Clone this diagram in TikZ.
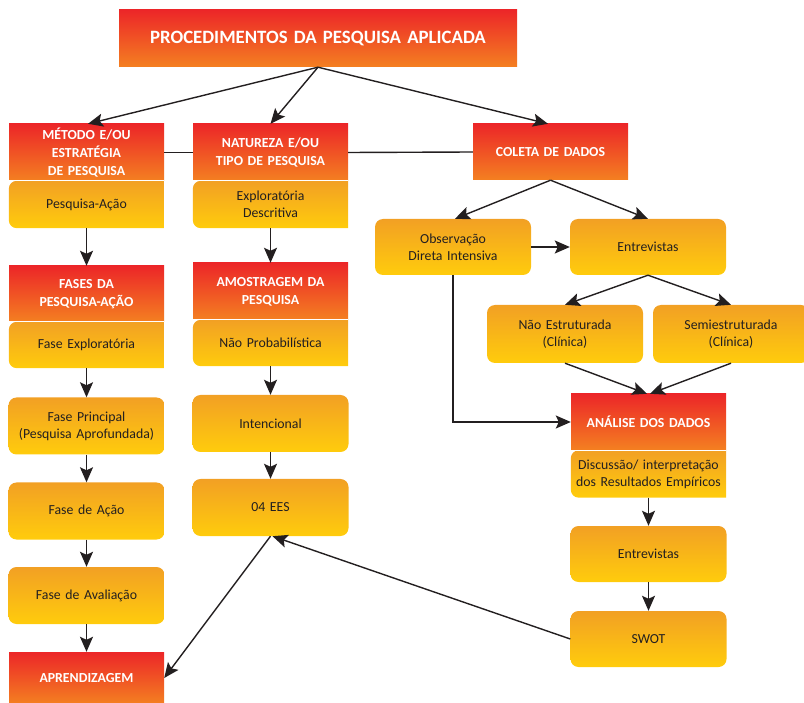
\documentclass[tikz,border=0pt]{standalone}
\usepackage{fontspec}
\setmainfont{Carlito}
\usetikzlibrary{arrows.meta,backgrounds}

\definecolor{hdtop}{RGB}{236,38,40}
\definecolor{hdbot}{RGB}{244,128,33}
\definecolor{bxtop}{RGB}{242,160,36}
\definecolor{bxbot}{RGB}{255,204,12}
\definecolor{ink}{RGB}{35,31,32}

\tikzset{
  hdr/.style={rectangle, top color=hdtop, bottom color=hdbot,
    minimum width=155pt, text width=152pt, align=center, inner sep=0pt,
    font=\bfseries\fontsize{13.8}{18}\selectfont, text=white},
  box/.style={rectangle, rounded corners=8pt, top color=bxtop, bottom color=bxbot,
    minimum width=156pt, text width=152pt, align=center, inner sep=0pt,
    font=\fontsize{13.8}{17}\selectfont, text=ink},
  subtext/.style={rectangle, minimum width=155pt, text width=152pt, align=center, inner sep=0pt,
    font=\fontsize{13.8}{17}\selectfont, text=ink},
  subfill/.style={top color=bxtop, bottom color=bxbot},
  seam/.style={draw=white, line width=0.8pt},
  arr/.style={draw=ink, line width=1.4pt, -{Stealth[length=15pt,width=13pt,inset=3pt]}},
  ln/.style={draw=ink, line width=1.4pt},
}

\begin{document}
\begin{tikzpicture}[x=1pt, y=-1pt]
\useasboundingbox (0,0) rectangle (804,703);
\clip (0,0) rectangle (804,703);

% title
\node[hdr, minimum width=398pt, text width=394pt, minimum height=57pt,
      font=\bfseries\fontsize{18.8}{22}\selectfont] (title) at (318,38.5)
      {PROCEDIMENTOS DA PESQUISA APLICADA};

% left column
\node[hdr, minimum height=57pt] (met) at (86.5,152.5) {MÉTODO E/OU\\ESTRATÉGIA\\DE PESQUISA};
\node[subtext, minimum height=47pt] (pa) at (86.5,204.5) {Pesquisa-Ação};
\node[hdr, minimum height=56pt] (fases) at (86.5,294) {FASES DA\\PESQUISA-AÇÃO};
\node[subtext, minimum height=46pt] (fe) at (86.5,345) {Fase Exploratória};
\node[box, minimum height=57pt] (fp) at (86.5,426) {Fase Principal\\(Pesquisa Aprofundada)};
\node[box, minimum height=57pt] (fac) at (86.5,511) {Fase de Ação};
\node[box, minimum height=57pt] (fav) at (86.5,595.5) {Fase de Avaliação};
\node[hdr, minimum height=52pt] (apr) at (86.5,678) {APRENDIZAGEM};

% middle column
\node[hdr, minimum height=57pt] (nat) at (270.5,152.5) {NATUREZA E/OU\\TIPO DE PESQUISA};
\node[subtext, minimum height=47pt] (ed) at (270.5,204.5) {Exploratória\\Descritiva};
\node[hdr, minimum height=57pt] (amo) at (270.5,291.5) {AMOSTRAGEM DA\\PESQUISA};
\node[subtext, minimum height=46pt] (np) at (270.5,343) {Não Probabilística};
\node[box, minimum height=57pt] (int) at (270.5,423.5) {Intencional};
\node[box, minimum height=57pt] (ees) at (270.5,507.5) {04 EES};

% right part
\node[hdr, minimum height=56pt] (col) at (550.5,152) {COLETA DE DADOS};
\node[box, minimum height=56pt] (obs) at (453,247) {Observação\\Direta Intensiva};
\node[box, minimum height=56pt] (ent) at (648,247) {Entrevistas};
\node[box, minimum height=58pt] (nes) at (565,334) {Não Estruturada\\(Clínica)};
\node[box, minimum height=58pt] (semi) at (731,334) {Semiestruturada\\(Clínica)};
\node[hdr, minimum height=56pt] (ana) at (648.5,422) {ANÁLISE DOS DADOS};
\node[subtext, minimum height=47pt] (dis) at (648.5,474) {Discussão/ interpretação\\dos Resultados Empíricos};
\node[box, minimum height=56pt] (ent2) at (648.5,554) {Entrevistas};
\node[box, minimum height=56pt] (swot) at (648.5,639) {SWOT};

% panels under the headers, rounded at the bottom only
\begin{scope}[on background layer]
  \foreach \n in {pa,ed,fe,np,dis}{
    \shade[subfill] (\n.north east) -- (\n.south east) [rounded corners=8pt]
      -- (\n.south west) -- (\n.north west) [sharp corners] -- cycle;
  }
\end{scope}
% thin light seam between each header and its panel
\foreach \n in {pa,ed,fe,np,dis}{
  \draw[seam] (\n.north west) -- (\n.north east);
}

% connectors
\draw[arr] (title.south) -- ([xshift=1.5pt]met.north);
\draw[arr] (title.south) -- (nat.north);
\draw[arr] (title.south) -- ([xshift=-2.5pt]col.north);
\draw[ln] (met.east) -- (nat.west);
\draw[ln] (nat.east) -- (col.west);

\draw[arr] (pa.south) -- (fases.north);
\draw[arr] (fe.south) -- (fp.north);
\draw[arr] (fp.south) -- (fac.north);
\draw[arr] (fac.south) -- (fav.north);
\draw[arr] (fav.south) -- (apr.north);

\draw[arr] (ed.south) -- (amo.north);
\draw[arr] (np.south) -- (int.north);
\draw[arr] (int.south) -- (ees.north);

\draw[arr] (col.south) -- ([xshift=2pt]obs.north);
\draw[arr] (col.south) -- (ent.north);
\draw[arr] (obs.east) -- (ent.west);
\draw[arr] (ent.south) -- (nes.north);
\draw[arr] (ent.south) -- (semi.north);
\draw[arr] (nes.south) -- ([xshift=-1.5pt]ana.north);
\draw[arr] (semi.south) -- ([xshift=1.5pt]ana.north);
\draw[arr] (obs.south) |- (ana.west);
\draw[arr] (dis.south) -- (ent2.north);
\draw[arr] (ent2.south) -- (swot.north);

\draw[arr] (ees.south) -- (apr.east);
\draw[arr] (swot.west) -- ([xshift=2pt]ees.south);
\end{tikzpicture}
\end{document}
